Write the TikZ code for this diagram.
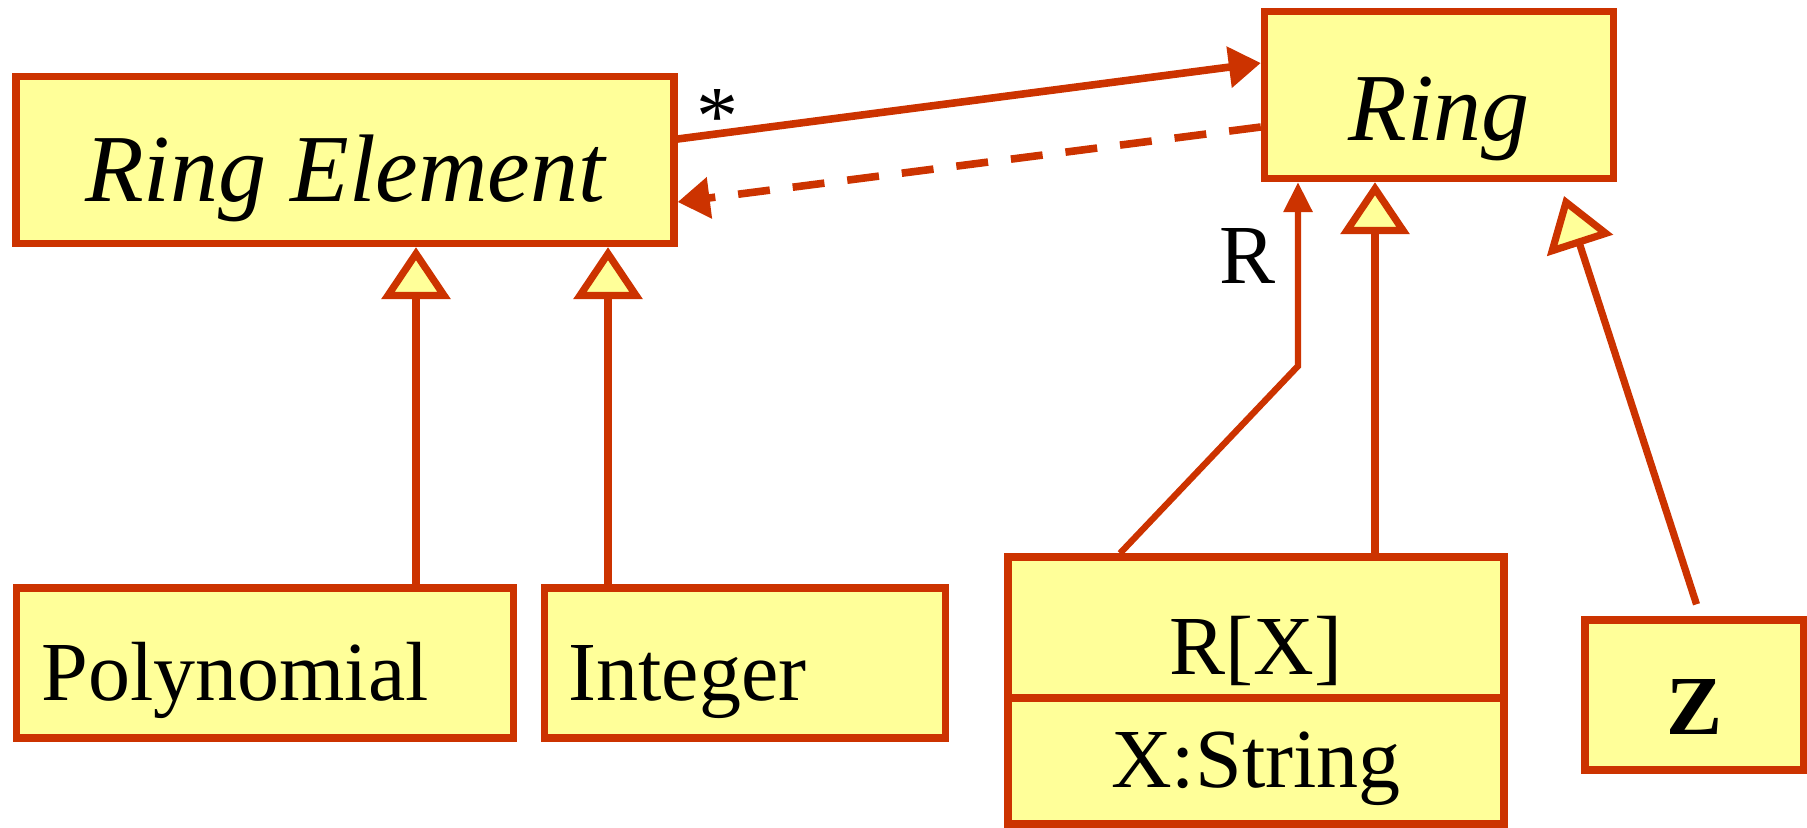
\documentclass[tikz,border=0pt]{standalone}
\usepackage{fontspec}
\setmainfont{Liberation Serif}
\usetikzlibrary{arrows.meta}

\definecolor{umlred}{HTML}{CC3300}
\definecolor{umlyellow}{HTML}{FFFF99}

\tikzset{
  cls/.style={draw=umlred, fill=umlyellow, line width=3.7pt, inner sep=0pt,
    font=\fontsize{42}{48}\selectfont},
  abstr/.style={cls, font=\fontsize{48}{54}\selectfont\itshape},
  lbl/.style={inner sep=0pt, font=\fontsize{42}{48}\selectfont},
  assoc/.style={draw=umlred, line width=3.8pt, -{Triangle[length=16pt,width=20pt]}},
  inherit/.style={draw=umlred, line width=3.6pt,
    -{Triangle[length=26pt,width=34pt,fill=umlyellow]}},
}

\begin{document}
\begin{tikzpicture}[x=0.5pt, y=-0.5pt]
\useasboundingbox (0,0) rectangle (1807,828);

% classes
\node[abstr, minimum width=329pt, minimum height=83.5pt, text height=42pt, text depth=0pt] (RE) at (345,160) {Ring Element};
\node[abstr, minimum width=174.5pt, minimum height=83.5pt, text height=46pt, text depth=0pt] (Ring) at (1439,95) {Ring};
\node[cls, minimum height=75pt, text width=223.5pt, inner xsep=12.5pt, align=left, text height=37pt, text depth=0pt] (Poly) at (265,663) {Polynomial};
\node[cls, minimum height=75pt, text width=176.5pt, inner xsep=12pt, align=left, text height=37pt, text depth=0pt] (Int) at (745,663) {Integer};
\node[cls, minimum width=248pt, minimum height=70.5pt, text height=46.5pt, text depth=0pt] (RX) at (1256,627.5) {R[X]};
\node[cls, minimum width=248pt, minimum height=63pt, text height=26pt, text depth=0pt] (RXattr) at (1256,761) {X:String};
\node[cls, minimum width=109.5pt, minimum height=75pt, text height=39pt, text depth=0pt] (Z) at (1694.5,695) {\textbf{Z}};

% association ring element <-> ring
\draw[assoc] ([yshift=10.5pt]RE.east) -- ([yshift=16pt]Ring.west);
\draw[assoc, dash pattern=on 16pt off 11.5pt] ([yshift=-16pt]Ring.west) -- ([yshift=-21pt]RE.east);
\node[lbl] (mult) at (717,117) {*};

% R[X] uses ring R
\coordinate (bend) at (1298,366);
\draw[assoc, line width=3.2pt, -{Triangle[length=15pt,width=14pt]}] ([xshift=-68pt]RX.north) -- (bend) -- (bend |- Ring.south);
\node[lbl] (rlab) at (1247,256) {R};

% inheritance
\coordinate (rxfoot) at ([xshift=59.5pt]RX.north);
\coordinate (polyfoot) at ([xshift=75.5pt]Poly.north);
\coordinate (intfoot) at ([xshift=-68.5pt]Int.north);
\coordinate (zfoot) at ([xshift=1pt,yshift=6pt]Z.north);
\coordinate (ztip) at (1564,196);
\draw[inherit] (rxfoot) -- (rxfoot |- Ring.south);
\draw[inherit] (polyfoot) -- (polyfoot |- RE.south);
\draw[inherit] (intfoot) -- (intfoot |- RE.south);
\draw[inherit] (zfoot) -- (ztip);
\end{tikzpicture}
\end{document}
